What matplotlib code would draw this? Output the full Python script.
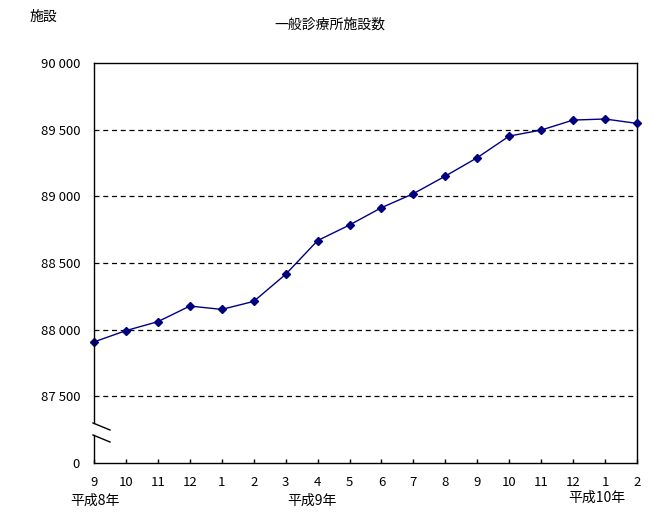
import matplotlib.pyplot as plt
from matplotlib.lines import Line2D

plt.rcParams['font.family'] = ['Noto Sans CJK JP', 'DejaVu Sans']

# 月（平成8年9月〜平成10年2月）
months = ['9', '10', '11', '12', '1', '2', '3', '4', '5', '6', '7', '8',
          '9', '10', '11', '12', '1', '2']
# 一般診療所施設数
clinics = [87908, 87993, 88060, 88177, 88152, 88212, 88415, 88668, 88785,
           88915, 89020, 89152, 89290, 89452, 89497, 89572, 89580, 89547]
yticks = [87000, 87500, 88000, 88500, 89000, 89500, 90000]
ytick_labels = ['0', '87 500', '88 000', '88 500', '89 000', '89 500', '90 000']
years = ['平成8年', '平成9年', '平成10年']

fig = plt.figure(figsize=(6.58, 5.30), dpi=100)
ax = fig.add_axes([94 / 658, 1 - 463 / 530, 543 / 658, 400 / 530])

x = list(range(len(months)))
ax.plot(x, clinics, color='#000080', lw=1, marker='D', ms=4.5,
        markerfacecolor='#000080', markeredgecolor='#000080', clip_on=False, zorder=3)

ax.set_xlim(0, len(months) - 1)
ax.set_ylim(87000, 90000)
ax.set_xticks(x)
ax.set_xticklabels(months, fontsize=9.5)
ax.set_yticks(yticks)
ax.set_yticklabels(ytick_labels, fontsize=9.5)
ax.tick_params(axis='x', direction='in', length=3, pad=9, width=1)
ax.tick_params(axis='y', length=0, pad=10)

for v in yticks[1:-1]:
    ax.axhline(v, color='black', lw=0.9, ls=(0, (4, 3)), zorder=1)

for s in ax.spines.values():
    s.set_linewidth(1)
    s.set_color('black')

# 軸の省略記号
ax.spines['left'].set_visible(False)
for y0, y1 in [(63, 423), (435, 463)]:
    fig.add_artist(Line2D([94 / 658, 94 / 658], [1 - y0 / 530, 1 - y1 / 530],
                          color='black', lw=1))
for ya in [423, 435]:
    fig.add_artist(Line2D([93 / 658, 110 / 658], [1 - ya / 530, 1 - (ya + 7) / 530],
                          color='black', lw=1))

fig.text(30 / 658, 1 - 17 / 530, '施設', fontsize=10, va='center')
fig.text(330 / 658, 1 - 25 / 530, '一般診療所施設数', fontsize=10, ha='center', va='center')
fig.text(95 / 658, 1 - 501 / 530, years[0], fontsize=10, ha='center', va='center')
fig.text(312 / 658, 1 - 501 / 530, years[1], fontsize=10, ha='center', va='center')
fig.text(597 / 658, 1 - 498 / 530, years[2], fontsize=10, ha='center', va='center')

fig.savefig('out.png', dpi=100)
